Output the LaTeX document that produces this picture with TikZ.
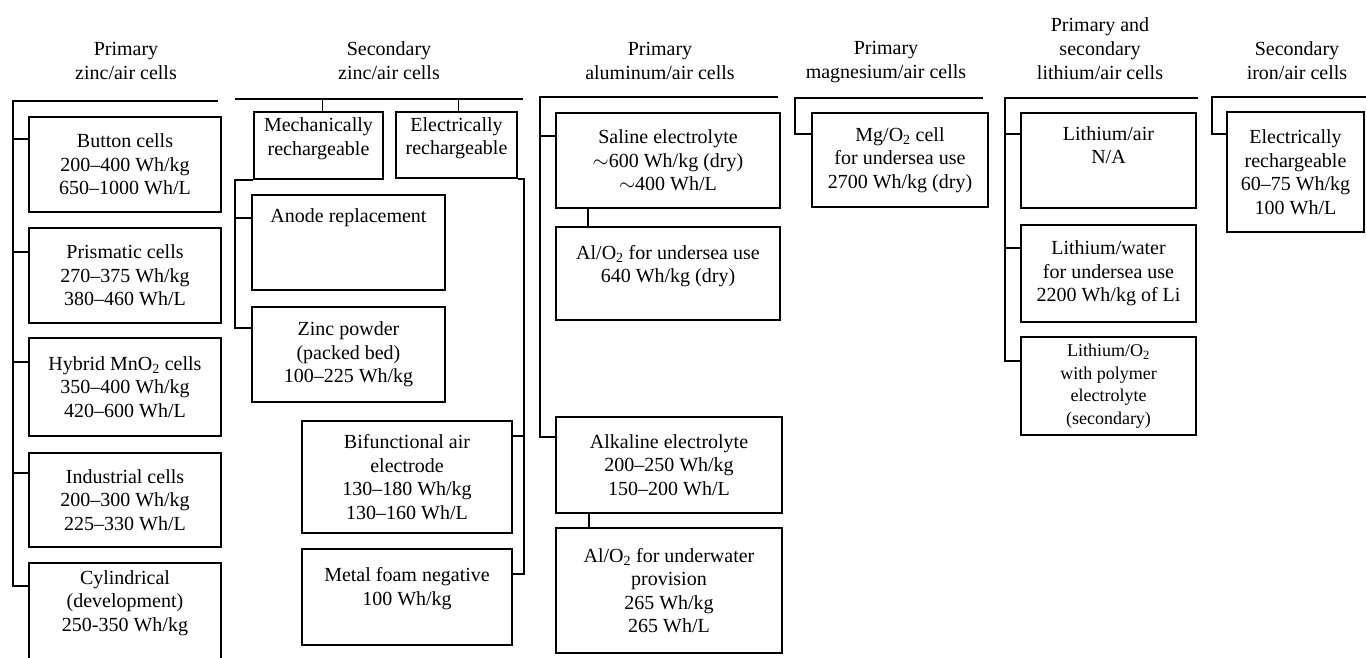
\documentclass[tikz,border=0pt]{standalone}
\usepackage{fontspec}
\setmainfont{Liberation Serif}
\newcommand\drawcell[7][]{\node[box,#1,minimum width={#4-#2},minimum height={#5-#3}] (#6) at ({(#2+#4)/2},{(#3+#5)/2}) {#7};}
\begin{document}
\begin{tikzpicture}[x=1pt,y=-1pt,
  every node/.style={inner sep=0pt, align=center, font=\fontsize{20}{23.5}\selectfont},
  box/.style={draw, line width=1.7pt},
  ttl/.style={font=\fontsize{20}{24}\selectfont},
  ln/.style={line width=1.7pt},
  small/.style={font=\fontsize{18}{22.5}\selectfont}]
\clip (0,0) rectangle (1366,657);

% ---------- titles
\node[ttl] (t1) at (126,61) {Primary\\zinc/air cells};
\node[ttl] (t2) at (389,61) {Secondary\\zinc/air cells};
\node[ttl] (t3) at (660,61) {Primary\\aluminum/air cells};
\node[ttl] (t4) at (886,62) {Primary\\magnesium/air cells};
\node[ttl] (t5) at (1100,49) {Primary and\\secondary\\lithium/air cells};
\node[ttl] (t6) at (1297,61) {Secondary\\iron/air cells};

% ---------- column 1
\drawcell{29}{117}{221}{212}{b1}{Button cells\\200--400 Wh/kg\\650--1000 Wh/L}
\drawcell{29}{228}{221}{323}{b2}{Prismatic cells\\270--375 Wh/kg\\380--460 Wh/L}
\drawcell{29}{338}{221}{436}{b3}{Hybrid MnO\textsubscript{2} cells\\350--400 Wh/kg\\420--600 Wh/L}
\drawcell{29}{453}{221}{547}{b4}{Industrial cells\\200--300 Wh/kg\\225--330 Wh/L}
\drawcell[text height=90pt]{29}{563}{221}{664}{b5}{Cylindrical\\(development)\\250-350 Wh/kg\\\strut}
\coordinate (k1) at (13,101);
\coordinate (k1e) at (218,101);
\draw[ln] (k1e) -- (k1) |- ([yshift=-24pt]b5.north west);
\draw[ln] ([yshift=-23pt]b1.north west) -- +(-16,0);
\draw[ln] ([yshift=-25pt]b2.north west) -- +(-16,0);
\draw[ln] ([yshift=-25pt]b3.north west) -- +(-16,0);
\draw[ln] ([yshift=-21pt]b4.north west) -- +(-16,0);

% ---------- column 2
\drawcell[text height=23.5pt]{254}{112}{383}{179}{mech}{Mechanically\\rechargeable}
\drawcell[text height=23.5pt]{396}{112}{517}{178}{elec}{Electrically\\rechargeable}
\drawcell{252}{195}{445}{290}{anode}{Anode replacement\\\strut\\\strut}
\drawcell{252}{307}{445}{402}{zinc}{Zinc powder\\(packed bed)\\100--225 Wh/kg}
\drawcell{302}{421}{512}{533}{bif}{Bifunctional air\\electrode\\130--180 Wh/kg\\130--160 Wh/L}
\drawcell[text height=71pt]{302}{549}{512}{645}{metal}{Metal foam negative\\100 Wh/kg\\\strut}
\coordinate (k2a) at (235,99);
\coordinate (k2b) at (523,99);
\draw[ln] (k2a) -- (k2b);
\draw[ln] ([xshift=4pt]mech.north) -- ([xshift=4pt]mech.north |- k2a);
\draw[ln] ([xshift=2pt]elec.north) -- ([xshift=2pt]elec.north |- k2a);
\draw[ln] (mech.south west) -- ++(-18,0) |- ([yshift=-22pt]zinc.north west);
\draw[ln] ([yshift=-24pt]anode.north west) -- +(-16,0);
\draw[ln] (elec.south east) -- ++(6,0) |- ([yshift=-26pt]metal.north east);
\draw[ln] ([yshift=-16pt]bif.north east) -- +(11,0);

% ---------- column 3
\drawcell{556}{113}{780}{208}{saline}{Saline electrolyte\\$\sim$600 Wh/kg (dry)\\$\sim$400 Wh/L}
\drawcell[text height=73pt]{556}{227}{780}{320}{alo1}{Al/O\textsubscript{2} for undersea use\\640 Wh/kg (dry)\\\strut}
\drawcell{556}{417}{782}{513}{alk}{Alkaline electrolyte\\200--250 Wh/kg\\150--200 Wh/L}
\drawcell{556}{528}{782}{653}{alo2}{Al/O\textsubscript{2} for underwater\\provision\\265 Wh/kg\\265 Wh/L}
\coordinate (k3a) at (540,97);
\coordinate (k3b) at (778,97);
\draw[ln] (k3b) -- (k3a) |- ([yshift=-21pt]alk.north west);
\draw[ln] ([yshift=-24pt]saline.north west) -- +(-16,0);
\draw[ln] ([xshift=33pt]saline.south west) -- ([xshift=33pt]alo1.north west);
\draw[ln] ([xshift=34pt]alk.south west) -- ([xshift=34pt]alo2.north west);

% ---------- column 4
\drawcell{812}{113}{988}{207}{mg}{Mg/O\textsubscript{2} cell\\for undersea use\\2700 Wh/kg (dry)}
\coordinate (k4a) at (795,98);
\coordinate (k4b) at (983,98);
\draw[ln] (k4b) -- (k4a) |- ([yshift=-22pt]mg.north west);

% ---------- column 5
\drawcell{1021}{113}{1196}{208}{liair}{Lithium/air\\N/A\\\strut}
\drawcell{1021}{225}{1196}{322}{liwater}{Lithium/water\\for undersea use\\2200 Wh/kg of Li}
\drawcell[small]{1021}{337}{1196}{435}{lio2}{Lithium/O\textsubscript{2}\\with polymer\\electrolyte\\(secondary)}
\coordinate (k5a) at (1005,98);
\coordinate (k5b) at (1198,98);
\draw[ln] (k5b) -- (k5a) |- ([yshift=-25pt]lio2.north west);
\draw[ln] ([yshift=-22pt]liair.north west) -- +(-16,0);
\draw[ln] ([yshift=-24pt]liwater.north west) -- +(-16,0);

% ---------- column 6
\drawcell{1227}{112}{1364}{232}{iron}{Electrically\\rechargeable\\60--75 Wh/kg\\100 Wh/L}
\coordinate (k6a) at (1212,97);
\coordinate (k6b) at (1366,97);
\draw[ln] (k6b) -- (k6a) |- ([yshift=-23pt]iron.north west);
\end{tikzpicture}
\end{document}
